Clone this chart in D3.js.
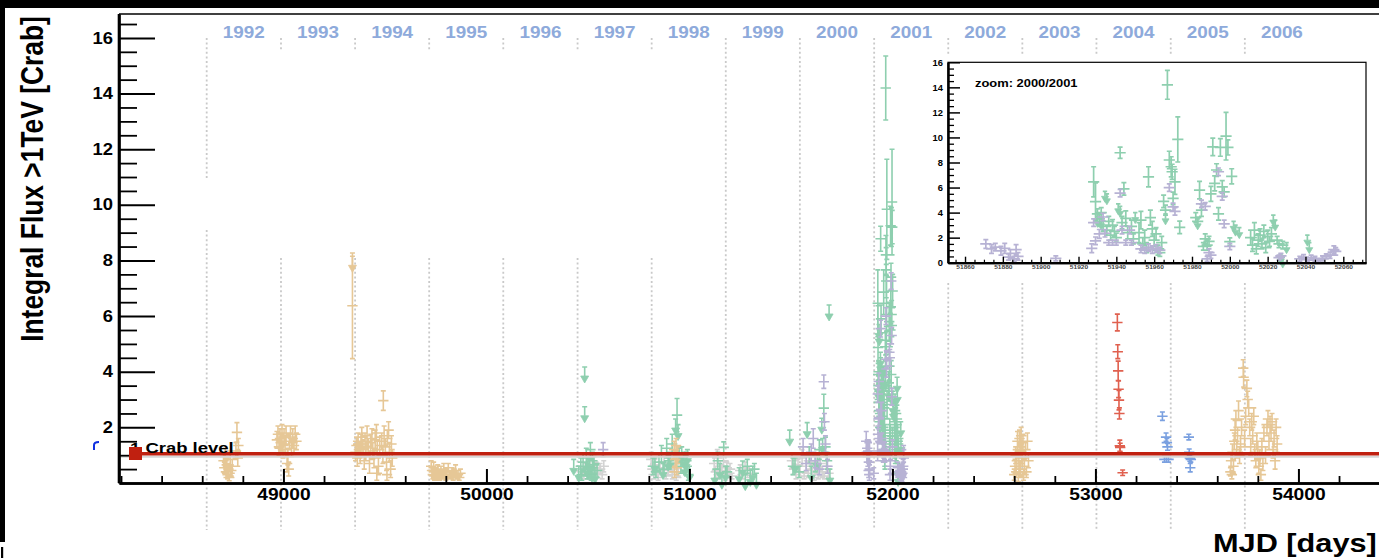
<!DOCTYPE html>
<html>
<head>
<meta charset="utf-8">
<script src="https://cdn.jsdelivr.net/npm/d3@7"></script>
<style>
  html, body { margin: 0; padding: 0; background: #fff; }
  svg { display: block; font-family: "Liberation Sans", Arial, Helvetica, sans-serif; font-weight: bold; }
</style>
</head>
<body>
<svg id="chart" width="1379" height="558"></svg>
<script>
// ---------------- data: [MJD, flux (Crab units), error] ----------------
const tanPts = [
  // 1992
  [48705,0.8,0.25],[48709,0.55,0.2],[48713,0.95,0.3],[48717,0.4,0.2],[48721,0.65,0.25],[48725,0.3,0.15],
  [48729,0.5,0.2],[48733,0.2,0.12],[48738,0.85,0.3],[48743,0.45,0.2],[48748,0.6,0.25],[48766,1.15,0.3],
  [48771,1.82,0.35],[48775,0.9,0.3],[48778,1.35,0.25],
  // 1993
  [48968,1.55,0.3],[48973,1.75,0.3],[48978,1.3,0.3],[48983,1.6,0.35],[48988,1.45,0.3],[48993,1.8,0.3],
  [48998,1.2,0.3],[49003,1.65,0.3],[49008,1.4,0.3],[49013,1.7,0.35],[49018,0.7,0.3],[49022,0.95,0.3],
  [49026,0.5,0.25],[49030,1.5,0.3],[49035,1.75,0.3],[49040,1.25,0.3],[49046,1.6,0.35],[49052,1.35,0.3],
  [49058,1.75,0.3],[49064,1.5,0.3],
  // 1994
  [49340,6.37,1.9],
  [49355,1.1,0.3],[49360,1.35,0.3],[49364,0.9,0.3],[49368,1.5,0.3],[49372,1.2,0.25],[49378,1.0,0.3],
  [49382,1.4,0.35],[49386,1.65,0.35],[49392,1.25,0.3],[49398,0.8,0.3],[49402,1.5,0.3],[49406,1.1,0.3],
  [49412,1.7,0.35],[49418,1.3,0.3],[49424,0.7,0.35],[49430,1.45,0.3],[49436,1.6,0.35],[49440,1.15,0.3],
  [49446,0.9,0.35],[49452,1.55,0.35],[49458,1.8,0.3],[49460,0.35,0.25],[49462,1.2,0.3],[49468,0.6,0.3],
  [49474,1.35,0.3],[49484,1.5,0.3],[49490,1.0,0.3],[49492,2.96,0.35],[49496,1.7,0.35],[49502,1.3,0.3],
  [49508,0.75,0.3],[49510,0.3,0.2],[49512,1.6,0.3],[49518,1.9,0.3],[49522,1.1,0.35],[49528,0.5,0.3],
  [49532,1.4,0.3],[49536,0.9,0.3],
  // 1995
  [49728,0.6,0.2],[49732,0.45,0.15],[49736,0.3,0.15],[49740,0.55,0.2],[49744,0.25,0.15],[49748,0.4,0.15],
  [49752,0.2,0.1],[49756,0.35,0.15],[49760,0.5,0.15],[49766,0.3,0.15],[49770,0.2,0.1],[49776,0.45,0.15],
  [49780,0.35,0.15],[49786,0.25,0.1],[49790,0.5,0.2],[49796,0.3,0.15],[49800,0.2,0.1],[49806,0.4,0.15],
  [49812,0.55,0.15],[49818,0.3,0.15],[49824,0.25,0.1],[49830,0.4,0.15],[49836,0.2,0.1],[49842,0.35,0.15],
  [49848,0.45,0.2],[49854,0.25,0.1],[49860,0.3,0.15],[49866,0.2,0.1],[49872,0.35,0.15],
  // 1998
  [50925,1.2,0.3],[50930,0.85,0.3],[50934,1.35,0.25],[50938,0.55,0.25],[50942,1.0,0.3],[50927,0.4,0.2],
  // 2002/2003
  [52600,0.3,0.2],[52604,0.6,0.25],[52607,1.0,0.3],[52610,0.4,0.2],[52613,0.8,0.3],[52616,1.5,0.35],
  [52618,1.2,0.3],[52620,0.2,0.15],[52623,0.7,0.3],[52626,1.6,0.3],[52628,1.3,0.3],[52631,0.5,0.25],
  [52634,1.7,0.3],[52636,1.1,0.3],[52640,0.9,0.3],[52643,1.45,0.3],[52646,0.3,0.2],[52650,0.6,0.25],
  [52655,1.2,0.3],[52660,0.4,0.2],[52665,1.5,0.3],[52670,0.8,0.25],
  // 2005/2006
  [53665,0.4,0.15],[53668,0.8,0.25],[53672,0.3,0.15],[53675,1.1,0.3],[53680,0.6,0.25],[53684,1.5,0.3],
  [53688,1.9,0.35],[53692,2.3,0.3],[53696,1.2,0.3],[53700,1.7,0.3],[53705,2.6,0.35],[53710,1.0,0.3],
  [53715,1.4,0.3],[53720,2.0,0.3],[53728,4.13,0.3],[53730,3.8,0.35],[53735,1.6,0.3],[53740,2.4,0.3],
  [53746,3.4,0.3],[53750,3.0,0.3],[53755,2.7,0.3],[53760,2.0,0.3],[53765,1.3,0.3],[53770,2.2,0.3],
  [53775,1.7,0.3],[53780,2.4,0.3],[53785,1.1,0.3],[53790,0.8,0.25],[53795,1.5,0.3],[53800,1.2,0.3],
  [53805,0.6,0.25],[53810,0.9,0.3],[53815,0.3,0.2],[53820,1.3,0.3],[53825,0.7,0.25],[53830,1.8,0.3],
  [53838,1.0,0.3],[53845,2.0,0.3],[53850,2.3,0.3],[53855,1.5,0.3],[53860,2.1,0.3],[53865,1.8,0.3],
  [53870,2.2,0.3],[53875,1.2,0.3],[53880,1.6,0.3],[53885,0.8,0.3],[53890,2.0,0.3],[53895,1.4,0.3]
];
const tanUL = [[49340,8.15]];

const greenPts = [
  // 1997
  [50465,0.6,0.3],[50470,0.3,0.2],[50476,0.75,0.3],[50488,0.5,0.25],[50492,0.9,0.35],[50497,0.4,0.25],
  [50506,0.55,0.3],[50512,1.2,0.25],[50516,0.3,0.2],[50522,0.8,0.3],[50530,0.65,0.3],[50545,0.45,0.25],
  // 1998
  [50820,0.6,0.3],[50835,0.4,0.2],[50850,0.75,0.3],[50862,1.05,0.3],[50875,0.5,0.25],[50888,1.25,0.35],
  [50900,0.8,0.3],[50915,1.4,0.35],[50939,2.44,0.6],[50950,1.0,0.3],[50958,0.6,0.25],[50985,0.8,0.3],
  [50995,0.3,0.2],
  // 1999
  [51140,0.8,0.3],[51169,1.28,0.2],[51185,0.4,0.2],[51285,0.6,0.25],[51320,0.5,0.2],
  // 2000
  [51510,0.6,0.3],[51540,0.4,0.2],[51590,1.0,0.3],[51620,0.7,0.3],[51640,1.2,0.35],[51662,2.69,0.5],
  [51670,1.3,0.35],[51678,0.8,0.3]
];
const greenUL = [
  [50430,0.85],[50455,0.6],[50484,4.17],[50484,2.74],[50500,0.7],[50508,0.9],[50520,0.6],[50535,0.55],
  [50830,0.9],[50870,0.7],[50895,1.0],[50908,1.05],[50932,2.3],[50944,2.1],[50948,1.25],[50962,1.3],
  [50970,1.1],[50978,0.8],[50984,1.0],[50990,1.2],[51000,0.6],
  [51125,0.5],[51150,0.7],[51160,0.35],[51178,0.6],[51245,0.55],[51262,0.79],[51275,0.3],[51300,0.45],
  [51312,0.6],[51330,0.35],
  [51494,1.9],[51520,0.9],[51580,2.17],[51600,0.6],[51630,1.0],[51652,2.33],[51656,1.6],[51688,6.4],
  [51692,0.5]
];

const grayPts = [
  // 1997
  [50470,0.4,0.15],[50480,0.25,0.1],[50490,0.55,0.15],[50500,0.3,0.15],[50510,0.6,0.2],[50520,0.35,0.15],
  [50530,0.2,0.1],[50540,0.55,0.2],[50550,0.35,0.15],[50560,0.5,0.2],[50570,0.3,0.15],[50578,0.6,0.2],
  // 1998
  [50812,0.85,0.25],[50818,0.5,0.2],[50824,0.3,0.15],[50830,0.65,0.2],[50838,0.4,0.2],[50846,0.2,0.1],
  [50855,0.55,0.2],[50865,0.35,0.15],[50875,0.7,0.25],[50885,0.25,0.1],[50895,0.45,0.2],[50905,0.6,0.2],
  [50915,0.3,0.15],[50925,0.5,0.2],[50935,0.2,0.1],[50945,0.4,0.15],
  // 1999
  [51122,0.7,0.25],[51130,0.4,0.2],[51137,0.9,0.3],[51144,0.3,0.15],[51152,0.6,0.2],[51160,0.45,0.2],
  [51168,0.8,0.25],[51176,0.2,0.1],[51184,0.55,0.2],[51192,0.35,0.15],[51200,0.5,0.2],[51210,0.25,0.1],
  [51250,0.45,0.2],[51262,0.3,0.15],[51274,0.55,0.2],[51286,0.35,0.15],[51298,0.2,0.1],
  // 2000
  [51505,0.8,0.25],[51515,0.5,0.2],[51525,0.3,0.15],[51535,0.65,0.2],[51545,0.4,0.2],[51555,0.9,0.3],
  [51565,0.25,0.1],[51575,0.6,0.2],[51585,0.35,0.15],[51595,0.75,0.25],[51605,0.45,0.2],[51615,0.2,0.1],
  [51625,0.55,0.2],[51635,0.3,0.15],[51645,0.7,0.25],[51655,0.4,0.2],[51665,0.25,0.1],[51675,0.6,0.2],
  [51685,0.35,0.15]
];

const purplePts = [
  [50575,1.2,0.25],
  [51560,1.3,0.3],[51575,0.7,0.25],[51600,1.1,0.3],[51610,1.6,0.35],[51620,0.8,0.25],[51640,0.5,0.2],
  [51662,3.64,0.24],[51665,2.2,0.3],[51670,1.4,0.3],[51680,0.6,0.25]
];

// 2000/2001 season (also shown in the zoom panel)
const season01Purple = [
  [51871,1.5,0.35],[51874,1.1,0.35],[51876,1.25,0.3],[51879,0.95,0.35],[51881,1.15,0.4],[51883,0.45,0.25],
  [51884,0.75,0.3],[51886,0.3,0.2],[51887,1.05,0.4],[51888,0.5,0.3],[51908,0.35,0.2],
  [51927,1.15,0.35],[51928,3.2,0.3],[51929,1.75,0.3],[51931,2.3,0.35],[51933,3.65,0.3],[51934,2.35,0.3],
  [51936,1.6,0.2],[51938,1.6,0.2],[51940,1.6,0.2],[51942,5.55,0.3],[51943,2.6,0.3],[51945,1.6,0.2],
  [51947,2.6,0.3],[51948,1.6,0.2],
  [51953,1.1,0.3],[51955,1.0,0.25],[51957,1.2,0.3],[51959,1.05,0.3],[51961,1.15,0.3],[51963,1.0,0.25],
  [51968,6.0,0.3],[51970,4.45,0.3],[51971,4.1,0.3],
  [51985,4.7,0.3],[51987,4.5,0.3],[51988,0.3,0.2],[51989,0.8,0.3],[51990,0.6,0.25],[51994,7.26,0.3],
  [51996,5.3,0.3],[51997,3.1,0.3],[52000,1.3,0.25],
  [52026,0.4,0.2],[52027,0.55,0.2],
  [52037,0.3,0.2],[52039,0.45,0.2],[52041,0.25,0.15],[52043,0.4,0.2],[52045,0.3,0.2],[52047,0.2,0.15],
  [52049,0.35,0.2],[52051,0.5,0.2],[52053,0.6,0.25],[52055,1.05,0.3],[52056,0.9,0.3]
];
const season01Green = [
  [51928,6.46,1.2],[51929,4.87,1.5],[51930,3.9,0.4],[51931,3.5,0.35],[51932,4.0,0.4],[51933,2.9,0.4],
  [51935,2.6,0.4],[51936,3.3,0.4],[51937,2.2,0.4],[51938,3.0,0.45],[51939,2.5,0.4],[51940,2.0,0.35],
  [51942,8.78,0.45],[51943,3.2,0.5],[51944,5.9,0.5],[51945,3.54,0.6],[51946,2.4,0.5],[51948,2.9,0.5],
  [51949,1.9,0.4],
  [51952,2.4,0.8],[51953,3.4,0.7],[51954,1.5,0.5],[51955,2.0,0.6],[51956,1.2,0.4],[51957,6.86,0.8],
  [51958,3.6,0.6],[51959,2.7,0.6],[51960,1.8,0.5],[51961,2.3,0.5],[51962,1.0,0.4],[51963,0.8,0.3],
  [51964,1.6,0.5],[51965,4.9,0.5],[51966,4.2,0.4],[51967,14.2,1.15],[51968,8.2,0.7],[51969,7.66,0.8],
  [51969.5,7.26,0.6],[51970,5.13,0.5],[51971,6.46,1.0],[51972.5,9.84,1.8],[51973.5,2.82,0.5],
  [51982,3.6,0.4],[51983,3.3,0.35],[51984,5.8,0.7],[51985,4.2,0.5],[51986,1.3,0.3],[51987,1.9,0.4],
  [51988,1.4,0.4],[51989,1.7,0.4],[51990,5.5,0.6],[51991,9.25,0.7],[51992,6.33,0.6],[51993,7.4,0.5],
  [51994,3.9,0.5],[51995,9.2,0.7],[51996,6.06,0.5],[51997,5.66,0.4],[51998,10.1,1.9],[51999,9.2,0.6],
  [52000,1.68,0.3],[52001,6.9,0.6],
  [52011,2.0,0.6],[52012,1.4,0.5],[52013,2.6,0.6],[52014,1.1,0.4],[52015,1.8,0.5],[52016,2.2,0.5],
  [52017,1.5,0.4],[52018,2.5,0.5],[52019,1.2,0.4],[52020,2.1,0.5],[52021,1.7,0.4],[52022,2.3,0.5],
  [52025,1.8,0.3],[52026,1.5,0.3],[52028,1.4,0.3]
];
const season01GreenUL = [
  [51930,3.7],[51932,3.5],[51934,5.7],[51935,5.5],[51941,4.7],[51942,4.5],[51950,4.0],[51966,3.9],
  [51983,3.5],[52002,3.3],[52003,3.0],[52005,2.8],[52023,3.8],[52024,3.4],[52027,0.7],[52028,0.45],
  [52030,1.6],[52041,2.2],[52042,1.6]
];

const redPts = [
  [53108,5.77,0.3],[53110,4.72,0.25],[53112,4.03,0.35],[53114,3.37,0.3],[53116,2.98,0.35],
  [53118,2.5,0.2],[53120,1.34,0.2],[53122,1.28,0.15],[53134,0.37,0.1]
];
const bluePts = [
  [53330,2.4,0.15],[53348,1.65,0.15],[53352,1.45,0.15],[53355,1.3,0.12],[53340,0.85,0.1],[53350,0.85,0.1],
  [53360,0.85,0.1],[53460,1.65,0.1],[53462,1.1,0.12],[53465,0.9,0.12],[53467,0.55,0.15],[53470,0.85,0.1]
];

// ---------------- ticks & labels ----------------
const years = d3.range(1992, 2007);
const xMajorTicks = [49000, 50000, 51000, 52000, 53000, 54000];
const yMajorTicks = [2, 4, 6, 8, 10, 12, 14, 16];
const insetXTicks = [51860, 51880, 51900, 51920, 51940, 51960, 51980, 52000, 52020, 52040, 52060];
const insetYTicks = [0, 2, 4, 6, 8, 10, 12, 14, 16];
const crabLevel = 1;

// ---------------- colours ----------------
const C = {
  tan: "#e6c796", green: "#8ecfaf", purple: "#b7b2d4", gray: "#d3d3d3",
  red: "#e0604f", blue: "#7aa0e0", year: "#8eaadb", crab: "#c02010"
};

// ---------------- drawing ----------------
const W = 1379, H = 558;
const svg = d3.select("#chart");
svg.append("rect").attr("width", W).attr("height", H).attr("fill", "#fff");

const x = d3.scaleLinear().domain([48190, 54600]).range([119, 119 + 6410 * 0.203]);
const y = d3.scaleLinear().domain([0, 16.86]).range([483, 14]);

const mjdOfJan1 = yr => Date.UTC(yr, 0, 1) / 86400000 + 40587;

// year boundaries (dotted) and year names
const yearSegs = yr => yr === 1992 ? [[38, 178], [230, 530]]
  : yr <= 1998 ? [[38, 50], [258, 530]]
  : yr <= 2001 ? [[38, 530]]
  : [[38, 55], [283, 530]];
const gYears = svg.append("g");
years.forEach(yr => {
  const xx = x(mjdOfJan1(yr));
  yearSegs(yr).forEach(([a, b]) => {
    gYears.append("line").attr("x1", xx).attr("x2", xx).attr("y1", a).attr("y2", b)
      .attr("stroke", "#c9c9c9").attr("stroke-width", 1.8).attr("stroke-dasharray", "2,2.6");
  });
  const mid = (mjdOfJan1(yr) + mjdOfJan1(yr + 1)) / 2;
  gYears.append("text").attr("transform", `translate(${x(mid)},38) scale(1.18,1)`)
    .attr("text-anchor", "middle").attr("font-size", 16).attr("fill", C.year).text(yr);
});

function drawPoints(g, xs, ys, pts, color, o) {
  let d = "";
  pts.forEach(([m, f, e]) => {
    const cx = xs(m), cy = ys(f), t = ys(f + e), b = ys(f - e);
    d += `M${cx},${t}V${b}M${cx - o.cap},${t}H${cx + o.cap}M${cx - o.cap},${b}H${cx + o.cap}` +
         `M${cx - o.cross},${cy}H${cx + o.cross}`;
  });
  g.append("path").attr("d", d).attr("fill", "none").attr("stroke", color).attr("stroke-width", o.sw);
}
function drawLimits(g, xs, ys, pts, color, o) {
  let d = "", tri = "";
  pts.forEach(([m, f]) => {
    const cx = xs(m), t = ys(f), s = t + o.shaft;
    d += `M${cx - o.cap},${t}H${cx + o.cap}M${cx},${t}V${s}`;
    tri += `M${cx - o.tw},${s}H${cx + o.tw}L${cx},${s + o.th}Z`;
  });
  g.append("path").attr("d", d).attr("fill", "none").attr("stroke", color).attr("stroke-width", o.sw);
  g.append("path").attr("d", tri).attr("fill", color).attr("stroke", color).attr("stroke-width", 0.8);
}

const mainPt = { sw: 1.6, cap: 2.5, cross: 5.2 };
const mainUL = { sw: 1.6, cap: 2.5, shaft: 9, tw: 4, th: 7 };

const gData = svg.append("g");
drawPoints(gData, x, y, grayPts, C.gray, mainPt);
drawPoints(gData, x, y, greenPts, C.green, mainPt);
drawLimits(gData, x, y, greenUL, C.green, mainUL);
drawPoints(gData, x, y, season01Green, C.green, mainPt);
drawLimits(gData, x, y, season01GreenUL, C.green, mainUL);
drawPoints(gData, x, y, purplePts, C.purple, mainPt);
drawPoints(gData, x, y, season01Purple, C.purple, mainPt);
drawPoints(gData, x, y, tanPts, C.tan, mainPt);
drawLimits(gData, x, y, tanUL, C.tan, mainUL);
drawPoints(gData, x, y, redPts, C.red, mainPt);
drawPoints(gData, x, y, bluePts, C.blue, mainPt);

// 1 Crab reference line
svg.append("line").attr("x1", 119).attr("x2", W).attr("y1", y(crabLevel) + 1.5).attr("y2", y(crabLevel) + 1.5)
  .attr("stroke", "#d6d6d6").attr("stroke-width", 2);
svg.append("line").attr("x1", 135).attr("x2", W).attr("y1", y(crabLevel) - 1.5).attr("y2", y(crabLevel) - 1.5)
  .attr("stroke", C.crab).attr("stroke-width", 3.6);

// frame top
svg.append("line").attr("x1", 119).attr("x2", W).attr("y1", 14).attr("y2", 14)
  .attr("stroke", "#000").attr("stroke-width", 1.3);

function styleAxis(g, sw, tw) {
  g.attr("font-family", null).attr("font-size", null);
  g.select(".domain").attr("stroke", "#000").attr("stroke-width", sw);
  g.selectAll(".tick line").attr("stroke", "#000").attr("stroke-width", tw);
}

// main x axis
const xMinor = d3.range(48200, 54600, 200).filter(v => v % 1000 !== 0);
const gxm = svg.append("g").attr("transform", "translate(0,483)")
  .call(d3.axisBottom(x).tickValues(xMinor).tickSizeInner(-7).tickSizeOuter(0).tickFormat(""));
styleAxis(gxm, 2.6, 1.8);
const gx = svg.append("g").attr("transform", "translate(0,483)")
  .call(d3.axisBottom(x).tickValues(xMajorTicks).tickSizeInner(-14).tickSizeOuter(0).tickFormat(d3.format("d")));
styleAxis(gx, 2.6, 2);
gx.selectAll(".tick text").attr("y", 17).attr("dy", null).attr("font-size", 16).attr("fill", "#000")
  .attr("transform", "scale(1.2,1)");

// main y axis
const yMinor = d3.range(0.5, 16.6, 0.5).filter(v => v % 2 !== 0);
const gym = svg.append("g").attr("transform", "translate(119,0)")
  .call(d3.axisLeft(y).tickValues(yMinor).tickSizeInner(-18).tickSizeOuter(0).tickFormat(""));
styleAxis(gym, 2.6, 1.8);
const gy = svg.append("g").attr("transform", "translate(119,0)")
  .call(d3.axisLeft(y).tickValues(yMajorTicks).tickSizeInner(-36).tickSizeOuter(0).tickPadding(6));
styleAxis(gy, 2.6, 2);
gy.selectAll(".tick text").attr("x", -6 / 1.15).attr("font-size", 16).attr("fill", "#000")
  .attr("transform", "scale(1.15,1)");
gy.select(".domain").attr("d", "M0,483V14");

// axis titles
svg.append("text").attr("transform", "translate(43,179) scale(1.2,1) rotate(-90)")
  .attr("text-anchor", "middle").attr("font-size", 26.4).attr("fill", "#000")
  .text("Integral Flux >1TeV [Crab]");
svg.append("text").attr("transform", "translate(1213,552) scale(1.2,1)")
  .attr("font-size", 25.6).attr("fill", "#000").text("MJD [days]");

// legend entry
svg.append("text").attr("transform", "translate(130,453) scale(1.2,1)")
  .attr("font-size", 15.4).attr("fill", "#000").text("1 Crab level");
svg.append("rect").attr("x", 129).attr("y", 447).attr("width", 13).attr("height", 13).attr("fill", C.crab);

// ---------------- zoom panel ----------------
const xi = d3.scaleLinear().domain([51851, 52072]).range([948, 1366]);
const yi = d3.scaleLinear().domain([0, 16]).range([262.7, 62.3]);
const gIn = svg.append("g");
gIn.append("rect").attr("x", 948).attr("y", 62.3).attr("width", 418).attr("height", 200.4)
  .attr("fill", "#fff").attr("stroke", "#000").attr("stroke-width", 1.2);

const inPt = { sw: 1.7, cap: 2.5, cross: 5.6 };
const inUL = { sw: 1.7, cap: 2.2, shaft: 5, tw: 3.5, th: 6 };
drawPoints(gIn, xi, yi, season01Green, C.green, inPt);
drawLimits(gIn, xi, yi, season01GreenUL, C.green, inUL);
drawPoints(gIn, xi, yi, season01Purple, C.purple, inPt);

const ixMinor = d3.range(51855, 52072, 5).filter(v => v % 20 !== 0);
const gixm = gIn.append("g").attr("transform", "translate(0,262.7)")
  .call(d3.axisBottom(xi).tickValues(ixMinor).tickSizeInner(-3).tickSizeOuter(0).tickFormat(""));
styleAxis(gixm, 2, 1.2);
const gix = gIn.append("g").attr("transform", "translate(0,262.7)")
  .call(d3.axisBottom(xi).tickValues(insetXTicks).tickSizeInner(-6).tickSizeOuter(0).tickFormat(d3.format("d")));
styleAxis(gix, 2, 1.4);
gix.selectAll(".tick text").attr("y", 6.6).attr("dy", null).attr("font-size", 5.5).attr("fill", "#444")
  .attr("transform", "scale(1.2,1)");

const iyMinor = d3.range(0.5, 16, 0.5).filter(v => v % 2 !== 0);
const giym = gIn.append("g").attr("transform", "translate(948,0)")
  .call(d3.axisLeft(yi).tickValues(iyMinor).tickSizeInner(-6).tickSizeOuter(0).tickFormat(""));
styleAxis(giym, 2, 1.3);
const giy = gIn.append("g").attr("transform", "translate(948,0)")
  .call(d3.axisLeft(yi).tickValues(insetYTicks).tickSizeInner(-12).tickSizeOuter(0).tickPadding(5));
styleAxis(giy, 2, 1.5);
giy.selectAll(".tick text").attr("x", -5 / 1.1).attr("font-size", 8.5).attr("fill", "#000")
  .attr("transform", "scale(1.1,1)");

gIn.append("text").attr("transform", "translate(975,87) scale(1.23,1)")
  .attr("font-size", 10.5).attr("fill", "#000").text("zoom: 2000/2001");

// ---------------- page edge ----------------
svg.append("rect").attr("x", 0).attr("y", 0).attr("width", W).attr("height", 8).attr("fill", "#000");
svg.append("rect").attr("x", 0).attr("y", 0).attr("width", 5).attr("height", 542).attr("fill", "#000");
svg.append("rect").attr("x", 1).attr("y", 547).attr("width", 2.2).attr("height", 11).attr("fill", "#000");
svg.append("path").attr("d", "M94,450V445Q94,442 99,442").attr("fill", "none")
  .attr("stroke", "#1030e0").attr("stroke-width", 2);
</script>
</body>
</html>
